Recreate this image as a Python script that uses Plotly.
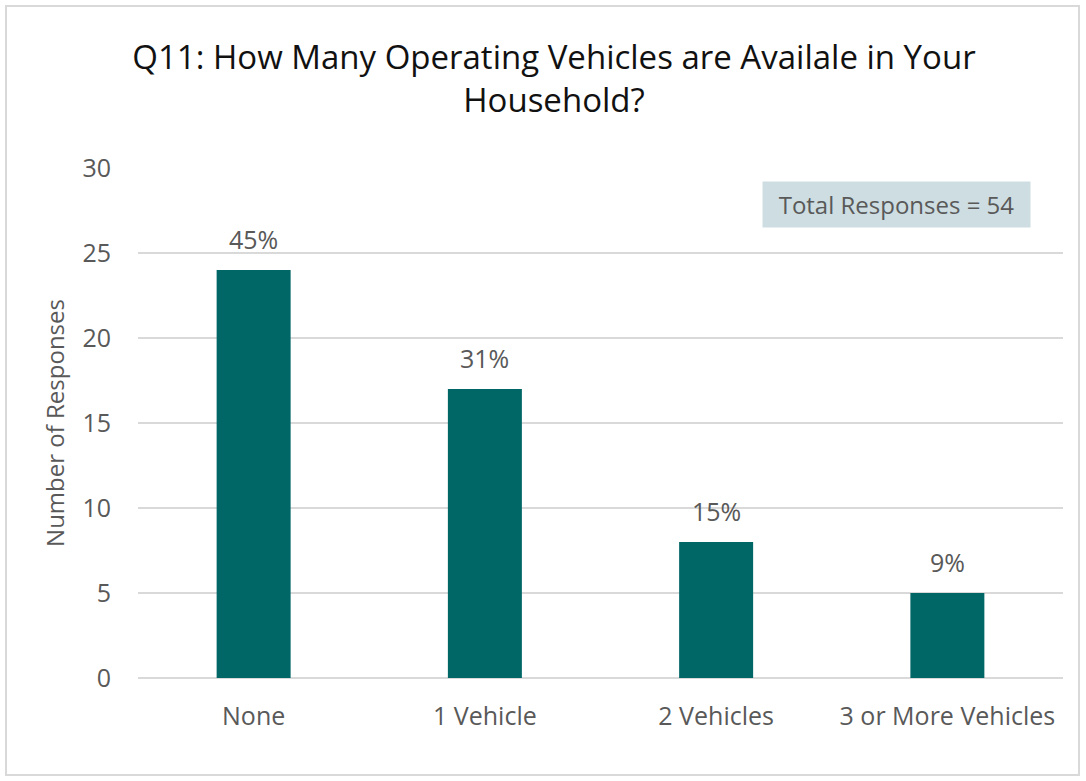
import plotly.graph_objects as go

categories = ["None", "1 Vehicle", "2 Vehicles", "3 or More Vehicles"]
responses = [24, 17, 8, 5]
percent_labels = ["45%", "31%", "15%", "9%"]
total_responses = 54

W, H = 1086, 781
ml, mr, mt, mb = 138, 23, 168, 103
pw, ph = W - ml - mr, H - mt - mb

def px_x(x):
    return (x - ml) / pw

def px_y(y):
    return (H - mb - y) / ph

grey = "#595959"
font_family = "Open Sans, Liberation Sans, sans-serif"

fig = go.Figure(
    go.Bar(
        x=categories,
        y=responses,
        marker=dict(color="#006766", line=dict(width=0)),
    )
)

# percentage labels above each bar
label_annotations = [
    dict(
        x=cat,
        y=val,
        xref="x",
        yref="y",
        text=lbl,
        showarrow=False,
        xanchor="center",
        yanchor="bottom",
        yshift=12,
        font=dict(size=25, color=grey, family=font_family),
    )
    for cat, val, lbl in zip(categories, responses, percent_labels)
]

fig.update_layout(
    width=W,
    height=H,
    margin=dict(l=ml, r=mr, t=mt, b=mb),
    paper_bgcolor="white",
    plot_bgcolor="white",
    bargap=0.68,
    showlegend=False,
    title=dict(
        text="Q11: How Many Operating Vehicles are Availale in Your<br>Household?",
        x=px_x(554),
        xref="paper",
        xanchor="center",
        y=1 - 69 / H,
        yanchor="middle",
        font=dict(size=33, color="#111111", family=font_family),
    ),
    xaxis=dict(
        showgrid=False,
        showline=False,
        ticks="",
        tickfont=dict(size=25, color=grey, family=font_family),
        ticklabelstandoff=21,
    ),
    yaxis=dict(
        range=[0, 30],
        dtick=5,
        showgrid=True,
        gridcolor="#d9d9d9",
        gridwidth=2,
        zeroline=True,
        zerolinecolor="#d9d9d9",
        zerolinewidth=2,
        showline=False,
        ticks="",
        tickfont=dict(size=25, color=grey, family=font_family),
        ticklabelstandoff=26,
        title=dict(
            text="Number of Responses",
            font=dict(size=24, color=grey, family=font_family),
            standoff=11,
        ),
    ),
    shapes=[
        dict(
            type="rect",
            xref="paper",
            yref="paper",
            x0=px_x(6),
            x1=px_x(1079),
            y0=px_y(6),
            y1=px_y(775),
            line=dict(color="#d9d9d9", width=2),
            fillcolor="rgba(0,0,0,0)",
            layer="below",
        )
    ],
    annotations=label_annotations + [
        dict(
            text=f"Total Responses = {total_responses}",
            xref="paper",
            yref="paper",
            x=px_x(896),
            y=px_y(205),
            xanchor="center",
            yanchor="middle",
            showarrow=False,
            font=dict(size=24, color=grey, family=font_family),
            bgcolor="#cddde1",
            borderpad=7,
            width=253,
            height=31,
        )
    ],
)

fig.write_html("out.html")
